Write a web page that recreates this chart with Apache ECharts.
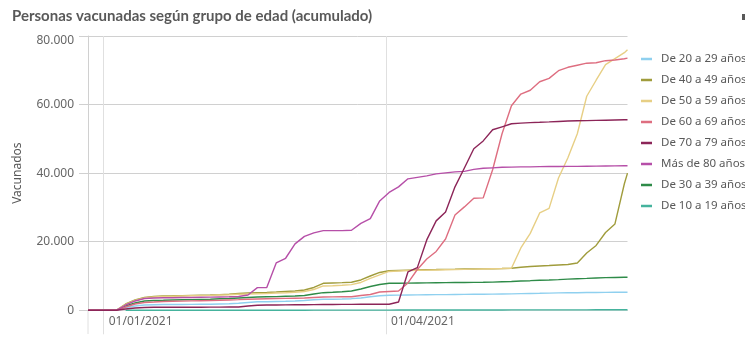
<!DOCTYPE html>
<html><head><meta charset="utf-8">
<script src="https://cdn.jsdelivr.net/npm/echarts@6/dist/echarts.min.js"></script>
<style>html,body{margin:0;padding:0;background:#fff}#c{width:745px;height:337px}</style>
</head><body><div id="c"></div>
<script>
const dates = ['2020-12-27','2020-12-30','2021-01-02','2021-01-05','2021-01-08','2021-01-11','2021-01-14','2021-01-17','2021-01-20','2021-01-23','2021-01-26','2021-01-29','2021-02-01','2021-02-04','2021-02-07','2021-02-10','2021-02-13','2021-02-16','2021-02-19','2021-02-22','2021-02-25','2021-02-28','2021-03-03','2021-03-06','2021-03-09','2021-03-12','2021-03-15','2021-03-18','2021-03-21','2021-03-24','2021-03-27','2021-03-30','2021-04-02','2021-04-05','2021-04-08','2021-04-11','2021-04-14','2021-04-17','2021-04-20','2021-04-23','2021-04-26','2021-04-29','2021-05-02','2021-05-05','2021-05-08','2021-05-11','2021-05-14','2021-05-17','2021-05-20','2021-05-23','2021-05-26','2021-05-29','2021-06-01','2021-06-04','2021-06-07','2021-06-10','2021-06-13','2021-06-16','2021-06-17'];

const age20_29 = [0,0,0,0,820,1260,1550,1640,1670,1690,1690,1720,1750,1780,1840,1900,2040,2280,2480,2510,2570,2630,2720,2860,3070,3210,3240,3300,3390,3590,3940,4260,4410,4440,4470,4500,4530,4560,4580,4610,4640,4670,4700,4730,4760,4790,4850,4910,4960,5020,5080,5110,5140,5170,5200,5230,5260,5260,5260];
const age40_49 = [0,0,0,0,1840,3000,3740,4030,4180,4230,4290,4350,4410,4470,4560,4670,4900,5050,5140,5200,5340,5490,5640,5930,6660,7880,7970,8060,8180,8850,10000,11040,11530,11620,11710,11770,11830,11880,11940,11970,12030,12060,12090,12120,12180,12260,12560,12790,12940,13080,13230,13370,13810,16730,18920,22700,25200,36900,40000];
const age50_59 = [0,0,0,0,1700,2860,3590,3880,4030,4090,4180,4230,4290,4350,4470,4530,4670,4760,4820,4900,5050,5140,5260,5490,6070,7100,7180,7300,7500,8120,9290,10310,11330,11480,11590,11650,11710,11770,11830,11880,11940,12000,12060,12120,12180,12250,18190,22430,28400,29730,38600,44470,51480,62430,67100,71630,73380,75130,76000];
const age60_69 = [0,0,0,0,960,1840,2280,2420,2570,2630,2690,2740,2800,2860,2920,3010,3100,3210,3300,3360,3420,3470,3530,3590,3740,3880,3910,3940,3970,4320,4610,5340,5490,5640,7970,11900,14980,17170,20800,27800,30160,32700,32790,41000,51480,59650,63070,64180,66660,67630,69880,70870,71480,72070,72210,72800,73000,73380,73530];
const age70_79 = [0,0,0,0,380,670,820,880,880,880,900,900,910,920,930,950,960,1260,1460,1550,1550,1580,1610,1640,1660,1690,1690,1720,1720,1750,1750,1750,1750,2420,11180,12440,20530,26080,28700,36000,41500,47100,49400,52650,53520,54400,54600,54750,54840,54950,55070,55190,55280,55330,55390,55450,55510,55570,55570];
const age80 = [0,0,0,0,1550,2720,3450,3590,3650,3680,3740,3740,3800,3830,3880,3940,4030,4470,6600,6660,13800,15180,19360,21550,22570,23240,23240,23240,23360,25350,26750,31900,34370,36000,38340,38780,39220,39800,40090,40380,40530,41110,41410,41550,41700,41760,41840,41840,41900,41930,41960,41990,41990,42020,42050,42080,42110,42140,42140];
const age30_39 = [0,0,0,0,1260,2130,2720,2860,2920,3010,3070,3120,3180,3240,3360,3450,3590,3740,3880,3940,4000,4090,4180,4320,4760,5140,5260,5400,5640,6220,6950,7530,7880,7910,7940,7970,8000,8030,8060,8090,8120,8150,8180,8230,8320,8410,8560,8640,8760,8850,8960,9080,9200,9310,9430,9520,9580,9640,9640];
const age10_19 = [null,null,null,null,0,0,0,0,0,0,0,0,0,0,0,10,10,10,20,20,20,30,30,30,40,40,40,50,50,50,60,60,60,70,70,70,80,80,80,90,90,90,100,100,100,110,110,110,120,120,120,130,130,130,140,140,140,150,150];

const xTickDates = ['2021-01-01','2021-04-01'];
const xMin = '2020-12-27';
const xMax = '2021-06-17';
const yTicks = [0, 20000, 40000, 60000, 80000];

const seriesDefs = [
  {name:'De 10 a 19 años', data:age10_19, color:'#45b39d'},
  {name:'De 20 a 29 años', data:age20_29, color:'#8fd0ef'},
  {name:'De 30 a 39 años', data:age30_39, color:'#2e8b48'},
  {name:'De 40 a 49 años', data:age40_49, color:'#a09c3c'},
  {name:'De 50 a 59 años', data:age50_59, color:'#e7cf85'},
  {name:'De 60 a 69 años', data:age60_69, color:'#de6e80'},
  {name:'Más de 80 años', data:age80, color:'#b64fa8'},
  {name:'De 70 a 79 años', data:age70_79, color:'#8c2558'}
];
const legendOrder = ['De 20 a 29 años','De 40 a 49 años','De 50 a 59 años','De 60 a 69 años','De 70 a 79 años','Más de 80 años','De 30 a 39 años','De 10 a 19 años'];

const T = s => {
  const p = s.split('-').map(Number);
  return Date.UTC(p[0], p[1]-1, p[2]);
};
const pad = n => (n < 10 ? '0' : '') + n;
const fmtDate = v => { const d = new Date(v); return pad(d.getUTCDate()) + '/' + pad(d.getUTCMonth()+1) + '/' + d.getUTCFullYear(); };
const fmt = v => String(v).replace(/\B(?=(\d{3})+(?!\d))/g, '.');
const FONT = 'Noto Sans';

const chart = echarts.init(document.getElementById('c'), null, {renderer:'canvas'});
chart.setOption({
  animation: false,
  backgroundColor: '#fff',
  title: {
    text: 'Personas vacunadas según grupo de edad (acumulado)',
    left: 7, top: 4,
    textStyle: {fontFamily: 'Lato', fontSize: 15, fontWeight: 'bold', color: '#595959'}
  },
  legend: {
    orient: 'vertical', left: 636, top: 47,
    data: legendOrder,
    icon: 'rect', itemWidth: 11, itemHeight: 2.5, itemGap: 7,
    textStyle: {fontFamily: FONT, fontSize: 11.5, color: '#595959', lineHeight: 14, padding: [0,0,0,4]},
    selectedMode: false
  },
  grid: {left: 88, right: 117.5, top: 36, bottom: 26.7, containLabel: false},
  xAxis: {
    type: 'value', min: T(xMin), max: T(xMax),
    axisLine: {show: true, lineStyle: {color: '#d9d9d9'}},
    axisTick: {show: true, customValues: xTickDates.map(T), length: 24, lineStyle: {color: '#e0e0e0'}},
    axisLabel: {
      customValues: xTickDates.map(T),
      formatter: v => fmtDate(v),
      align: 'left', margin: 5, padding: [0,0,0,5],
      color: '#666', fontFamily: FONT, fontSize: 12
    },
    splitLine: {show: true, lineStyle: {color: '#e0e0e0'}}
  },
  yAxis: {
    type: 'value', min: 0, max: 80000, interval: 20000,
    name: 'Vacunados', nameLocation: 'middle', nameGap: 64,
    nameTextStyle: {color: '#595959', fontFamily: FONT, fontSize: 12},
    axisLine: {show: true, lineStyle: {color: '#d0d0d0'}},
    axisTick: {show: true, length: 9, lineStyle: {color: '#d0d0d0'}},
    axisLabel: {
      margin: 14, color: '#666', fontFamily: FONT, fontSize: 12,
      formatter: v => v === yTicks[yTicks.length-1] ? '{t|' + fmt(v) + '}' : fmt(v),
      rich: {t: {padding: [10,0,0,0], color: '#666', fontFamily: FONT, fontSize: 12}}
    },
    splitLine: {lineStyle: {color: '#d0d0d0'}}
  },
  graphic: [
    {type: 'rect', left: 742, top: 14, shape: {width: 3, height: 6}, style: {fill: '#595959'}},
    {type: 'line', shape: {x1: 88, y1: 310, x2: 88, y2: 334}, style: {stroke: '#e0e0e0', lineWidth: 1}}
  ],
  series: seriesDefs.map(s => ({
    name: s.name, type: 'line', showSymbol: false, symbol: 'none',
    data: dates.map((d, i) => [T(d), s.data[i]]),
    lineStyle: {width: 1.4, color: s.color}, itemStyle: {color: s.color},
    emphasis: {disabled: true}, silent: true
  }))
});
</script></body></html>
